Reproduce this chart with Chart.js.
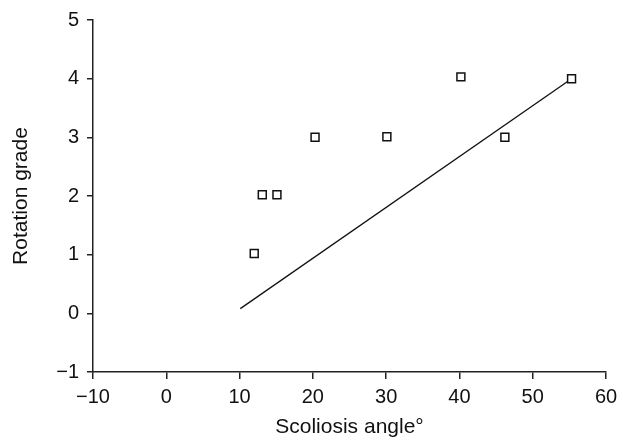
<!DOCTYPE html>
<html>
<head>
<meta charset="utf-8">
<script src="https://cdn.jsdelivr.net/npm/chart.js@4.4.1/dist/chart.umd.min.js"></script>
<style>
  body { margin: 0; background: #fff; }
  #wrap { width: 629px; height: 442px; position: relative; }
</style>
</head>
<body>
<div id="wrap"><canvas id="c"></canvas></div>
<script>
// scoliosis angle vs rotation grade
angleValues = [12.0, 13.1, 15.1, 20.3, 30.1, 40.2, 46.2, 55.3]
gradeValues = [1.02, 2.02, 2.02, 3.0, 3.01, 4.03, 3.0, 4.0]
// regression line end points
fitAngles = [10.1, 55.3]
fitGrades = [0.08, 4.0]

xTicks = [-10, 0, 10, 20, 30, 40, 50, 60]
yTicks = [-1, 0, 1, 2, 3, 4, 5]

pts = []
for (let i = 0; i < angleValues.length; i++) {
  pts.push({x: angleValues[i], y: gradeValues[i]})
}
fit = []
for (let i = 0; i < fitAngles.length; i++) {
  fit.push({x: fitAngles[i], y: fitGrades[i]})
}

function minus(v) {
  return String(v).replace('-', '\u2212')
}

Chart.defaults.font.family = "'Liberation Sans', Arial, sans-serif"
Chart.defaults.color = '#111'

const myChart = new Chart(document.getElementById('c'), {
  type: 'scatter',
  data: {
    datasets: [
      {
        label: 'data',
        data: pts,
        pointStyle: 'rect',
        pointRadius: 5.6,
        pointBorderWidth: 1.5,
        pointBorderColor: '#111',
        pointBackgroundColor: '#fff',
        order: 0
      },
      {
        label: 'fit',
        data: fit,
        showLine: true,
        pointRadius: 0,
        borderColor: '#111',
        borderWidth: 1.3,
        order: 1
      }
    ]
  },
  options: {
    responsive: true,
    maintainAspectRatio: false,
    animation: false,
    layout: { padding: { top: 20, right: 23, left: 0, bottom: 0 } },
    plugins: { legend: { display: false }, tooltip: { enabled: false } },
    scales: {
      x: {
        type: 'linear',
        min: -10, max: 60,
        afterBuildTicks: function(s) { s.ticks = xTicks.map(v => ({value: v})) },
        afterFit: function(s) { s.height = 70 },
        grid: { drawOnChartArea: false, drawTicks: true, tickLength: 7, color: '#222', lineWidth: 1.5 },
        border: { display: true, color: '#222', width: 1.5 },
        ticks: { font: { size: 20 }, padding: 6, color: '#111', callback: v => minus(v), maxRotation: 0 },
        title: { display: true, text: 'Scoliosis angle°', font: { size: 21 }, color: '#111', padding: { top: 6, bottom: 2 } }
      },
      y: {
        type: 'linear',
        min: -1, max: 5,
        afterBuildTicks: function(s) { s.ticks = yTicks.map(v => ({value: v})) },
        afterFit: function(s) { s.width = 93 },
        grid: { drawOnChartArea: false, drawTicks: true, tickLength: 6, color: '#222', lineWidth: 1.5 },
        border: { display: true, color: '#222', width: 1.5 },
        ticks: { font: { size: 20 }, padding: 8, color: '#111', callback: v => minus(v) },
        title: { display: true, text: 'Rotation grade', font: { size: 21 }, color: '#111', padding: { top: 9, bottom: 4 } }
      }
    }
  }
});
</script>
</body>
</html>
